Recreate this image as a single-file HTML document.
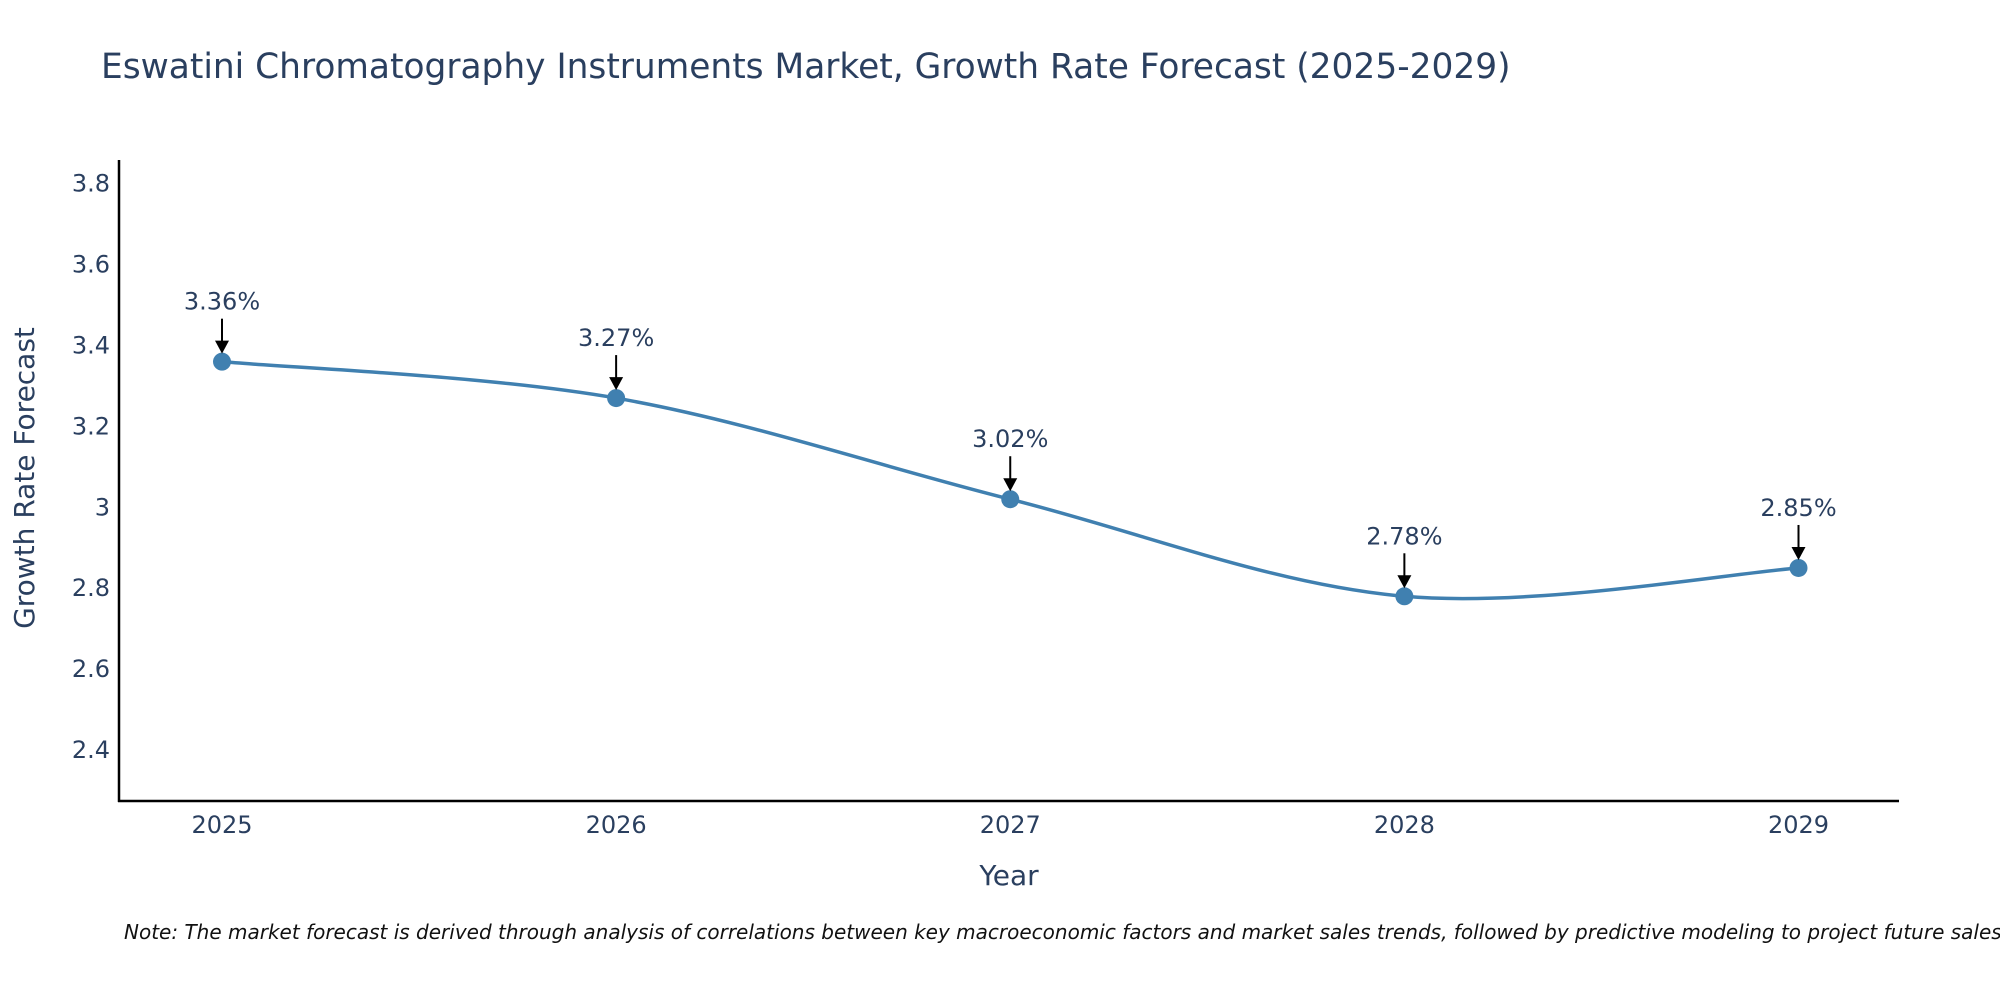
<!DOCTYPE html>
<html><head><meta charset="utf-8"><style>
body{margin:0;background:#fff;width:2000px;height:1000px;overflow:hidden;font-family:"Liberation Sans","DejaVu Sans",sans-serif}
</style></head><body>
<svg id="chart" width="2000" height="1000" xmlns="http://www.w3.org/2000/svg">
<rect width="2000" height="1000" fill="#fff"/>
<text x="101" y="78" font-size="34.4" fill="#2a3f5f" font-family="DejaVu Sans, sans-serif">Eswatini Chromatography Instruments Market, Growth Rate Forecast (2025-2029)</text>
<g id="yticks"></g><g id="xticks"></g>
<line x1="119" y1="160" x2="119" y2="802" stroke="#000" stroke-width="2.5"/>
<line x1="118" y1="801" x2="1899" y2="801" stroke="#000" stroke-width="2.5"/>
<path id="line" fill="none" stroke="#4080b0" stroke-width="3.5"/>
<g id="pts"></g><g id="ann"></g>
<text transform="translate(34,478) rotate(-90)" text-anchor="middle" font-size="28" fill="#2a3f5f" font-family="DejaVu Sans, sans-serif">Growth Rate Forecast</text>
<text x="1009" y="885" text-anchor="middle" font-size="28" fill="#2a3f5f" font-family="DejaVu Sans, sans-serif">Year</text>
<text x="124" y="939" font-size="20" font-style="italic" fill="#111" font-family="DejaVu Sans, sans-serif">Note: The market forecast is derived through analysis of correlations between key macroeconomic factors and market sales trends, followed by predictive modeling to project future sales.</text>
</svg>
<script>
const years=[2025,2026,2027,2028,2029];
const values=[3.36,3.27,3.02,2.78,2.85];
const labels=["3.36%","3.27%","3.02%","2.78%","2.85%"];
const yTicks=[2.4,2.6,2.8,3,3.2,3.4,3.6,3.8];
const NS="http://www.w3.org/2000/svg";
function X(v){return 222+(v-2025)*(1798.5-222)/4;}
function Y(v){return 750-(v-2.4)*(750-183.7)/1.4;}
function mk(t,a,p){const e=document.createElementNS(NS,t);for(const k in a)e.setAttribute(k,a[k]);p.appendChild(e);return e;}
const yt=document.getElementById('yticks');
yTicks.forEach(v=>{const t=mk('text',{x:110,y:Y(v)+8,'text-anchor':'end','font-size':24,fill:'#2a3f5f','font-family':'DejaVu Sans, sans-serif'},yt);t.textContent=String(v);

});
const xt=document.getElementById('xticks');
years.forEach(v=>{const t=mk('text',{x:X(v),y:833,'text-anchor':'middle','font-size':24,fill:'#2a3f5f','font-family':'DejaVu Sans, sans-serif'},xt);t.textContent=String(v);

});
const P=years.map((y,i)=>[X(y),Y(values[i])]);
let d=`M${P[0][0]},${P[0][1]}`;
for(let i=0;i<P.length-1;i++){const p0=P[Math.max(i-1,0)],p1=P[i],p2=P[i+1],p3=P[Math.min(i+2,P.length-1)];const s=6;
d+=` C${p1[0]+(p2[0]-p0[0])/s},${p1[1]+(p2[1]-p0[1])/s} ${p2[0]-(p3[0]-p1[0])/s},${p2[1]-(p3[1]-p1[1])/s} ${p2[0]},${p2[1]}`;}
document.getElementById('line').setAttribute('d',d);
const pg=document.getElementById('pts'),ag=document.getElementById('ann');
P.forEach((p,i)=>{const c=mk('circle',{cx:p[0],cy:p[1],r:9,fill:'#4080b0'},pg);


const l=mk('line',{x1:p[0],y1:p[1]-43,x2:p[0],y2:p[1]-20,stroke:'#000','stroke-width':2},ag);


const h=mk('polygon',{points:`${p[0]-7},${p[1]-21} ${p[0]+7},${p[1]-21} ${p[0]},${p[1]-8}`,fill:'#000'},ag);


const t=mk('text',{x:p[0],y:p[1]-52,'text-anchor':'middle','font-size':24,fill:'#2a3f5f','font-family':'DejaVu Sans, sans-serif'},ag);t.textContent=labels[i];

});
</script>
</body></html>
